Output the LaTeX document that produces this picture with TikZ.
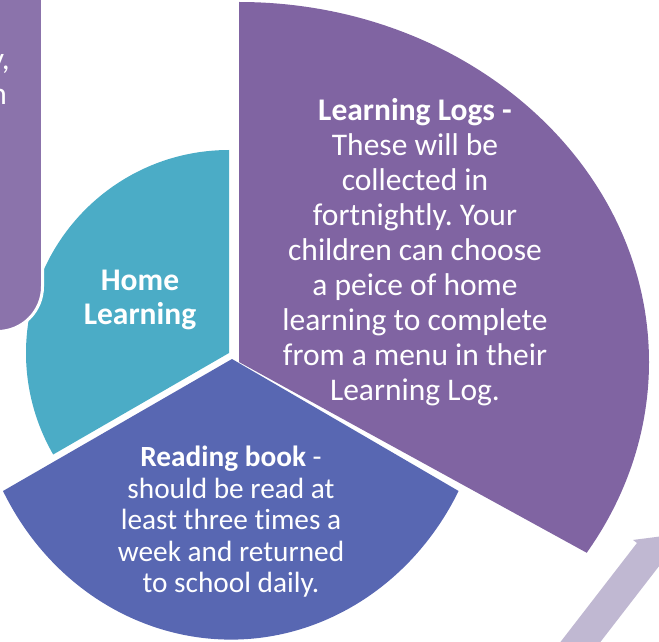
\documentclass[tikz,border=0pt]{standalone}
\usepackage{fontspec}
\setmainfont{Carlito}[Ligatures=NoCommon]
\frenchspacing
\definecolor{logpurple}{HTML}{8064A2}
\definecolor{hometeal}{HTML}{4BACC6}
\definecolor{bookblue}{HTML}{5867B2}
\definecolor{notepurple}{HTML}{8B73AB}
\definecolor{arrowlilac}{HTML}{C0B8D2}

\begin{document}
\begin{tikzpicture}[
  x=1pt, y=1pt,
  every node/.style={text=white, align=center, inner sep=0pt},
  bigtext/.style={font=\fontsize{31.5}{35}\selectfont},
  booktext/.style={font=\fontsize{29.3}{31.5}\selectfont}
]

\useasboundingbox (0,0) rectangle (659,641);

\fill[arrowlilac, shift={(562,1)}, rotate=52.3]
  (-40,0) -- (122.6,0) -- (122.6,5) -- (143.4,-15.8) -- (122.6,-36.6)
  -- (122.6,-31.6) -- (-40,-31.6) -- cycle;

\fill[hometeal] (229,288) -- ++(0,203)
  arc[start angle=90, end angle=210, radius=203] -- cycle;
\fill[logpurple] (239,279) -- ++(0,360)
  arc[start angle=90, end angle=-32, x radius=410, y radius=360] -- cycle;
\fill[bookblue] (232,282) -- (3,150)
  arc[start angle=208, end angle=332, x radius=258, y radius=280] -- cycle;

\filldraw[fill=notepurple, draw=white, line width=3pt, rounded corners=45pt]
  (-90,309.5) rectangle (42.5,720);

\node (noteA) [bigtext, anchor=base east] at (10,571) {y,};
\node (noteB) [bigtext, anchor=base east] at (7,536) {n};

\node (logs) [bigtext] at (415,389) {\textbf{Learning Logs -}\\These will be\\collected in\\fortnightly. Your\\children can choose\\a peice of home\\learning to complete\\from a menu in their\\Learning Log.};
\node (home) [font=\bfseries\fontsize{31.5}{34}\selectfont] at (140,341) {Home\\Learning};
\node (book) [booktext] at (231,119) {\textbf{Reading book} -\\should be read at\\least three times a\\week and returned\\to school daily.};

\end{tikzpicture}
\end{document}
